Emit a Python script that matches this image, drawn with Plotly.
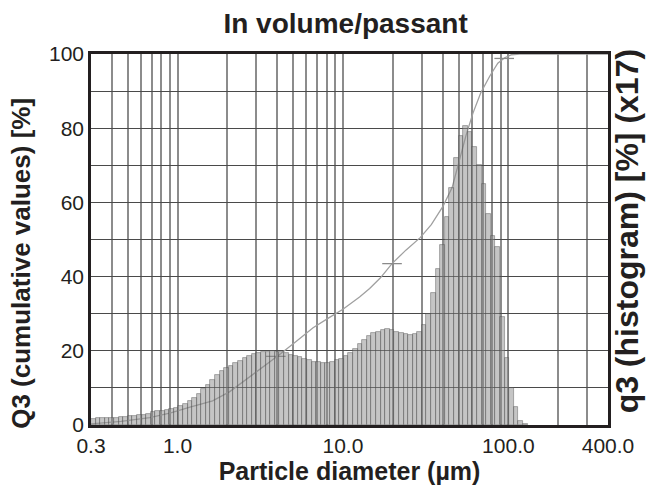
import numpy as np
import plotly.graph_objects as go

# ---------------- data ----------------
x_min, x_max = 0.3, 400.0
bins_per_decade = 36

# histogram q3 (x17), one value per log-spaced class starting at 0.3 µm
hist_values = [
    1.6, 1.8, 1.9, 1.9, 2.0, 2.0, 2.1, 2.2, 2.3, 2.5,
    2.6, 2.8, 3.1, 3.4, 3.7, 3.9, 4.1, 4.3, 4.6, 5.0,
    5.7, 6.4, 7.3, 8.4, 9.6, 10.9, 12.2, 13.4, 14.5, 15.3,
    16.0, 16.6, 17.3, 18.0, 18.6, 19.1, 19.5, 19.7, 19.8, 19.9,
    19.8, 19.6, 19.3, 19.0, 18.6, 18.2, 17.8, 17.4, 17.1, 16.9,
    16.8, 16.8, 17.0, 17.4, 17.9, 18.6, 19.4, 20.5, 21.9, 23.0,
    24.0, 24.7, 25.2, 25.6, 25.8, 25.6, 25.1, 24.7, 24.4, 24.2,
    24.4, 25.2, 27.0, 30.0, 35.5, 42.0, 48.5, 56.0, 64.0, 72.0,
    78.0, 80.5, 79.0, 75.0, 70.0, 65.0, 57.0, 51.0, 48.0, 29.0,
    18.0, 10.0, 4.8, 1.0, 0.4,
]

# cumulative Q3 curve
cum_sizes = [0.3, 0.456, 0.68, 0.91, 1.19, 1.63, 2.07, 2.64, 3.32, 4.2,
             5.3, 6.6, 8.3, 10.0, 12.6, 14.5, 16.8, 19.8, 24.1, 29.3,
             34.2, 40.3, 45.7, 51.0, 55.4, 61.0, 68.0, 77.1, 86.3, 95.0,
             104.5, 117.0, 400.0]
cum_values = [0.3, 1.0, 2.0, 3.3, 4.8, 6.5, 9.0, 12.5, 15.8, 19.2,
              22.8, 26.2, 29.0, 31.2, 34.5, 36.8, 39.6, 43.5, 47.2, 50.5,
              54.0, 59.0, 64.0, 72.0, 78.0, 84.0, 89.5, 94.0, 97.5, 99.0,
              99.8, 100.0, 100.0]

# marks on the cumulative curve
mark_sizes = [3.93, 19.8, 94.3]
mark_values = [18.5, 43.5, 98.8]

grid_x = [0.4, 0.5, 0.6, 0.7, 0.8, 0.9, 1, 2, 3, 4, 5, 6, 7, 8, 9,
          10, 20, 30, 40, 50, 60, 70, 80, 90, 100, 200, 300]
x_labels = {0.3: "0.3", 1: "1.0", 10: "10.0", 100: "100.0", 400: "400.0"}
y_grid = list(range(0, 101, 10))

title_text = "In volume/passant"
x_title = "Particle diameter (µm)"
y_title = "Q3 (cumulative values) [%]"
y2_title = "q3 (histogram) [%] (x17)"

# ---------------- figure ----------------
edges = x_min * 10 ** (np.arange(len(hist_values) + 1) / bins_per_decade)
left = edges[:-1]
widths = edges[1:] - edges[:-1]

FONT = "Liberation Sans, Arial, sans-serif"
TXT = "#231f20"

fig = go.Figure()
fig.add_trace(go.Bar(
    x=left, y=hist_values, width=widths, offset=0,
    marker=dict(color="rgba(140,140,140,0.5)",
                line=dict(color="rgba(80,80,80,0.55)", width=0.8)),
    yaxis="y2", showlegend=False,
))
fig.add_trace(go.Scatter(
    x=cum_sizes, y=cum_values, mode="lines",
    line=dict(color="#a0a0a0", width=1.3), showlegend=False,
))
fig.add_trace(go.Scatter(
    x=mark_sizes, y=mark_values, mode="markers",
    marker=dict(symbol="line-ew", size=14, line=dict(color="#8a8a8a", width=1.3)),
    showlegend=False,
))

xticks = [0.3] + grid_x + [400]
xtext = [x_labels.get(v, "") for v in xticks]

fig.update_layout(
    width=646, height=495,
    margin=dict(l=91, r=38, t=54, b=70),
    paper_bgcolor="white", plot_bgcolor="white",
    bargap=0,
    font=dict(family=FONT, color=TXT, size=21),
    title=dict(text="<b>%s</b>" % title_text, x=0.535, xanchor="center",
               y=0.953, yanchor="middle", font=dict(size=28, color=TXT)),
    xaxis=dict(
        type="log", range=[np.log10(x_min), np.log10(x_max)],
        tickmode="array", tickvals=xticks, ticktext=xtext,
        showgrid=True, gridcolor="#8c8c8c", gridwidth=1.8,
        showline=True, linecolor="#231f20", linewidth=2.6, mirror=True,
        ticks="", zeroline=False,
        tickfont=dict(size=21, color=TXT),
        title=dict(text="<b>%s</b>" % x_title,
                   font=dict(size=25, color=TXT), standoff=6),
    ),
    yaxis=dict(
        range=[0, 100], tickmode="array", tickvals=y_grid,
        ticktext=[str(v) if v % 20 == 0 else "" for v in y_grid],
        showgrid=True, gridcolor="#4a4a4a", gridwidth=1.3,
        showline=True, linecolor="#231f20", linewidth=2.6, mirror=True,
        ticks="", zeroline=False,
        tickfont=dict(size=21, color=TXT),
    ),
    yaxis2=dict(
        range=[0, 100], overlaying="y", side="right",
        showgrid=False, showticklabels=False, ticks="", zeroline=False,
        showline=False,
    ),
    annotations=[
        dict(text="<b>%s</b>" % y_title, textangle=-90, showarrow=False,
             xref="paper", yref="paper", x=-0.137, y=0.435,
             xanchor="center", yanchor="middle",
             font=dict(size=26, color=TXT)),
        dict(text="<b>%s</b>" % y2_title, textangle=-90, showarrow=False,
             xref="paper", yref="paper", x=1.0368, y=0.522,
             xanchor="center", yanchor="middle",
             font=dict(size=32, color=TXT)),
    ],
)

fig.write_html("out.html")
